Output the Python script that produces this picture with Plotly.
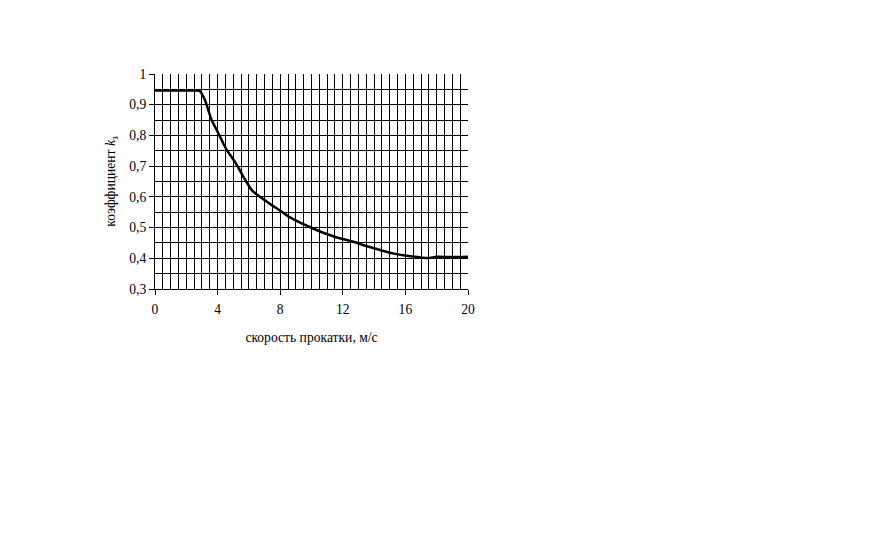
import plotly.graph_objects as go

speed = [0, 1, 2, 2.6, 2.88, 3.19, 3.62, 4.04, 4.58, 5.11, 5.64, 6.18, 6.82, 7.46, 8.0,
         8.63, 9.27, 10.1, 10.97, 11.8, 12.67, 13.5, 14.38, 15.2, 16.08, 16.9, 17.46,
         18.0, 19.04, 20.0]
coef = [0.946, 0.946, 0.946, 0.946, 0.944, 0.915, 0.850, 0.808, 0.753, 0.714, 0.666,
        0.622, 0.596, 0.573, 0.555, 0.533, 0.516, 0.497, 0.479, 0.465, 0.454, 0.440,
        0.427, 0.416, 0.408, 0.403, 0.401, 0.405, 0.404, 0.405]

x_ticks = [0, 4, 8, 12, 16, 20]
y_ticks = [0.3, 0.4, 0.5, 0.6, 0.7, 0.8, 0.9, 1.0]
y_labels = ["0,3", "0,4", "0,5", "0,6", "0,7", "0,8", "0,9", "1"]

# grid line positions (every 0.5 on x, every 0.05 on y, not on the plot edges)
x_grid = [i * 0.5 for i in range(1, 40)]
y_grid = [round(0.3 + i * 0.05, 2) for i in range(1, 14)]

font = "Liberation Serif"

fig = go.Figure()
fig.add_trace(go.Scatter(x=speed, y=coef, mode="lines",
                         line=dict(color="black", width=2.5, shape="spline", smoothing=0.6),
                         showlegend=False, hoverinfo="skip"))

fig.update_layout(
    width=896, height=558,
    margin=dict(l=147, r=436, t=66, b=277),
    paper_bgcolor="white", plot_bgcolor="white",
    font=dict(family=font, size=13.6, color="black"),
    xaxis=dict(range=[0, 20], tickvals=x_ticks, ticks="outside", ticklen=5, tickcolor="black",
               ticklabelstandoff=3,
               showline=True, linecolor="black", linewidth=1,
               showgrid=False, zeroline=False,
               minor=dict(tickvals=x_grid, showgrid=True, gridcolor="black", gridwidth=1, ticks=""),
               title=dict(text="скорость прокатки, м/с", font=dict(family=font, size=13.6), standoff=16)),
    yaxis=dict(range=[0.3, 1.0], tickvals=y_ticks, ticktext=y_labels, ticks="outside", ticklen=5,
               tickcolor="black", showline=True, linecolor="black", linewidth=1,
               showgrid=False, zeroline=False,
               minor=dict(tickvals=y_grid, showgrid=True, gridcolor="black", gridwidth=1, ticks=""),
               title=dict(text="коэффициент <i>k</i><sub>з</sub>", font=dict(family=font, size=13.6), standoff=10)),
)

fig.write_html("out.html")
